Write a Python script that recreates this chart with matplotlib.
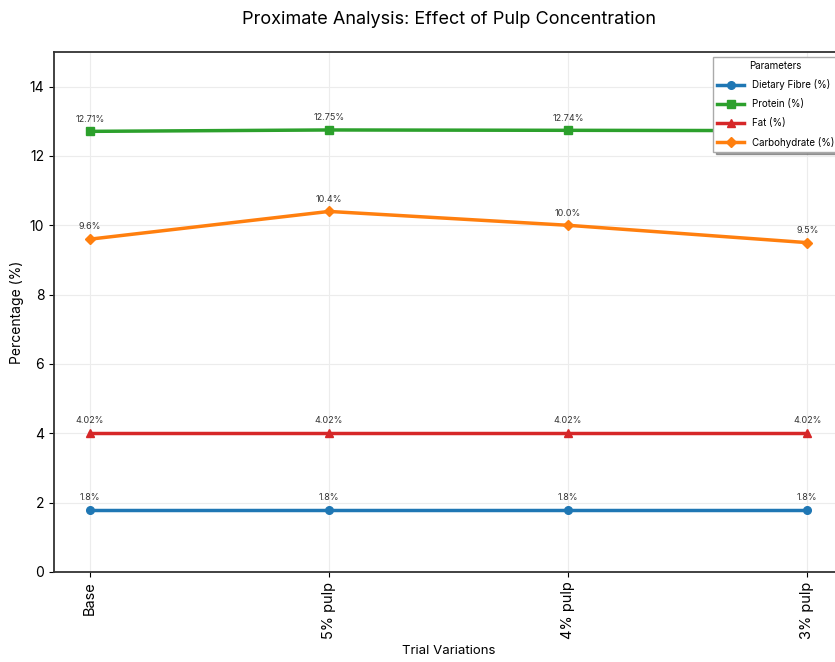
import matplotlib
matplotlib.use("Agg")
import matplotlib.pyplot as plt

plt.rcParams['font.family'] = ['Inter', 'DejaVu Sans']

trials = ["Base", "5% pulp", "4% pulp", "3% pulp"]
fibre = [1.8, 1.8, 1.8, 1.8]
protein = [12.71, 12.75, 12.74, 12.73]
fat = [4.02, 4.02, 4.02, 4.02]
carbs = [9.6, 10.4, 10.0, 9.5]

# last protein label sits under the legend in the original
fibre_labels = ["1.8%", "1.8%", "1.8%", "1.8%"]
protein_labels = ["12.71%", "12.75%", "12.74%", ""]
fat_labels = ["4.02%", "4.02%", "4.02%", "4.02%"]
carbs_labels = ["9.6%", "10.4%", "10.0%", "9.5%"]

series = [
    ("Dietary Fibre (%)", fibre, fibre_labels, "#1f77b4", "o"),
    ("Protein (%)", protein, protein_labels, "#2ca02c", "s"),
    ("Fat (%)", fat, fat_labels, "#d62728", "^"),
    ("Carbohydrate (%)", carbs, carbs_labels, "#ff7f0e", "D"),
]

fig = plt.figure(figsize=(8.35, 6.62), dpi=100)
# axes runs a little past the right edge, like the cropped original
ax = fig.add_axes([0.0647, 0.136, 0.945, 0.7855])

x = list(range(len(trials)))
for name, vals, labs, col, mk in series:
    ax.plot(x, vals, color=col, marker=mk, markersize=5.5, linewidth=2.5, label=name)
    for xi, v, t in zip(x, vals, labs):
        if t:
            ax.annotate(t, (xi, v), textcoords="offset points", xytext=(0, 7),
                        ha="center", fontsize=6.5, color="#333333")

ax.set_xticks(x)
ax.set_xticklabels(trials, rotation=90, fontsize=10.5)
ax.tick_params(axis="y", labelsize=10)
ax.set_ylim(0, 15)
ax.set_xlabel("Trial Variations", fontsize=9.5)
ax.set_ylabel("Percentage (%)", fontsize=10)
ax.set_title("Proximate Analysis: Effect of Pulp Concentration", fontsize=13, pad=20)
ax.grid(True, color="#ececec", linewidth=0.8)
for s in ax.spines.values():
    s.set_linewidth(1.3)
    s.set_color("#333333")
ax.spines["right"].set_visible(False)

leg = ax.legend(title="Parameters", loc="upper right", fontsize=7, title_fontsize=7,
                labelspacing=0.9, handlelength=2.8, framealpha=1.0, fancybox=False,
                edgecolor="#aaaaaa", shadow=True)
leg.set_zorder(10)

fig.savefig("out.png", dpi=100)
